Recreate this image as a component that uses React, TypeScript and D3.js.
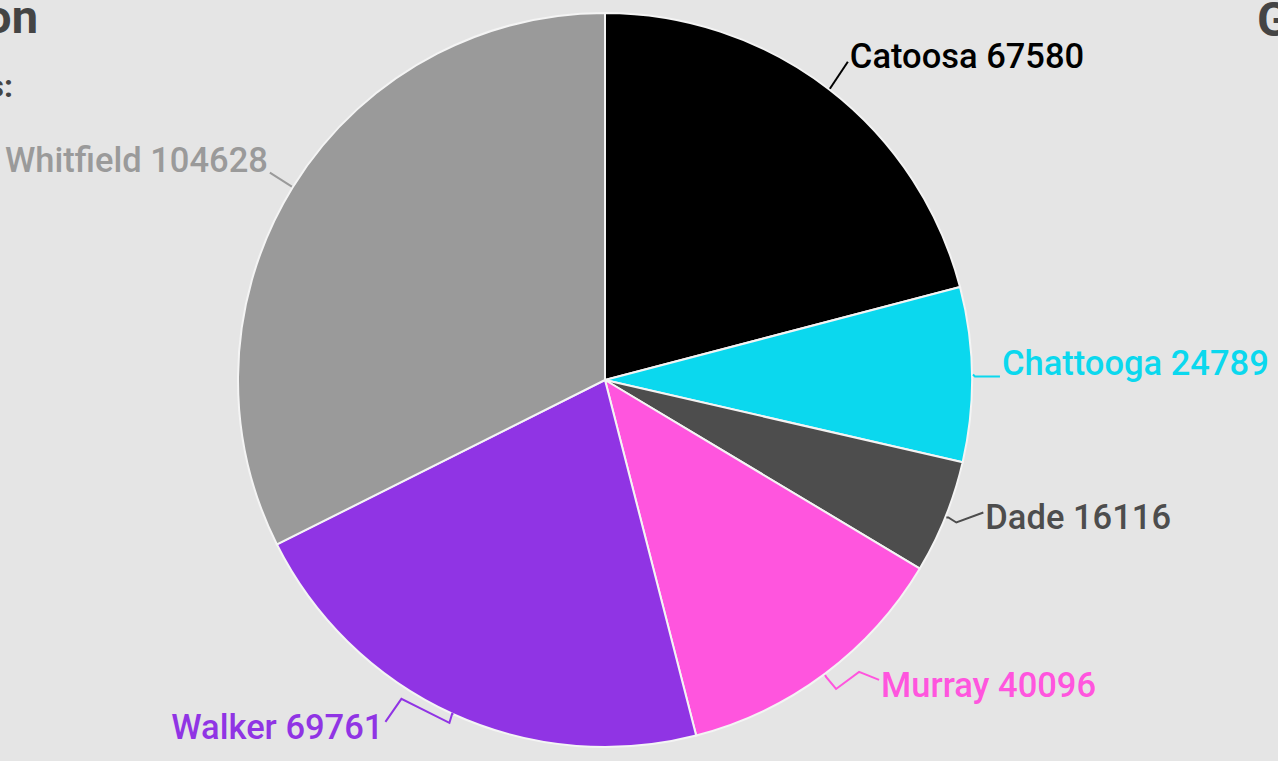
import { useEffect, useRef } from "react"
import * as d3 from "d3"

// county populations, drawn clockwise from 12 o'clock
const counties = ["Catoosa", "Chattooga", "Dade", "Murray", "Walker", "Whitfield"]
const population = [67580, 24789, 16116, 40096, 69761, 104628]
const sliceColors = ["#000000", "#0bd8ee", "#4d4d4d", "#ff55de", "#9034e4", "#9a9a9a"]

// leader line bends, relative to the point where the line leaves the slice
const leaderBends: [number, number][][] = [
    [[18, -27]],
    [[2, 2], [27, 2]],
    [[2, 0], [10, 5], [37, -5]],
    [[1, 2], [11, 14], [34, -3], [54, 5]],
    [[0, -2], [-3, 8], [-51, -16], [-67, 7]],
    [[-22, -14]],
]
// vertical shift of each label from the end of its leader
const labelShift = [-6, -14, 4, 5, 5, -13]

const W = 1278
const H = 761

const App = () => {
    const ref = useRef<SVGSVGElement>(null)

    useEffect(() => {
        const svg = d3.select(ref.current)
        svg.selectAll("*").remove()

        const cx = 605
        const cy = 380
        const radius = 367

        svg.append("rect").attr("width", W).attr("height", H).attr("fill", "#e5e5e5")

        // bits of the surrounding dashboard that are cut off by the frame
        svg.append("text").attr("x", 38).attr("y", 33).attr("text-anchor", "end")
            .attr("font-size", 47).attr("font-weight", 700).attr("fill", "#444")
            .text("Population")
        svg.append("text").attr("x", 13).attr("y", 97).attr("text-anchor", "end")
            .attr("font-size", 32).attr("font-weight", 700).attr("fill", "#444")
            .text("Counties:")
        svg.append("text").attr("x", 1257).attr("y", 36)
            .attr("font-size", 48).attr("font-weight", 700).attr("fill", "#444")
            .text("Georgia")

        const data = counties.map((name, i) => ({ name, value: population[i], color: sliceColors[i], i }))

        const pie = d3.pie<typeof data[0]>().sort(null).value(d => d.value)
        const arcs = pie(data)
        const arc = d3.arc<d3.PieArcDatum<typeof data[0]>>().innerRadius(0).outerRadius(radius)

        const g = svg.append("g").attr("transform", `translate(${cx},${cy})`)

        g.selectAll("path.slice")
            .data(arcs)
            .enter()
            .append("path")
            .attr("class", "slice")
            .attr("d", arc)
            .attr("fill", d => d.data.color)
            .attr("stroke", "#f4f4f4")
            .attr("stroke-width", 2)

        arcs.forEach(d => {
            const mid = (d.startAngle + d.endAngle) / 2
            const sx = Math.sin(mid) * (radius + 1)
            const sy = -Math.cos(mid) * (radius + 1)
            const pts: [number, number][] = [[sx, sy], ...leaderBends[d.data.i].map(([dx, dy]) => [sx + dx, sy + dy] as [number, number])]
            g.append("path")
                .attr("d", d3.line()(pts))
                .attr("fill", "none")
                .attr("stroke", d.data.color)
                .attr("stroke-width", 2)

            const end = pts[pts.length - 1]
            const right = end[0] > 0
            g.append("text")
                .attr("x", end[0] + (right ? 2 : -2))
                .attr("y", end[1] + labelShift[d.data.i])
                .attr("dy", "0.35em")
                .attr("text-anchor", right ? "start" : "end")
                .attr("font-size", 34.5)
                .attr("font-weight", 500)
                .attr("fill", d.data.color)
                .text(`${d.data.name} ${d.data.value}`)
        })
    }, [])

    return (
        <svg ref={ref} width={W} height={H}
            style={{ position: "absolute", left: 0, top: 0, fontFamily: "Roboto, sans-serif" }} />
    )
}

export default App
